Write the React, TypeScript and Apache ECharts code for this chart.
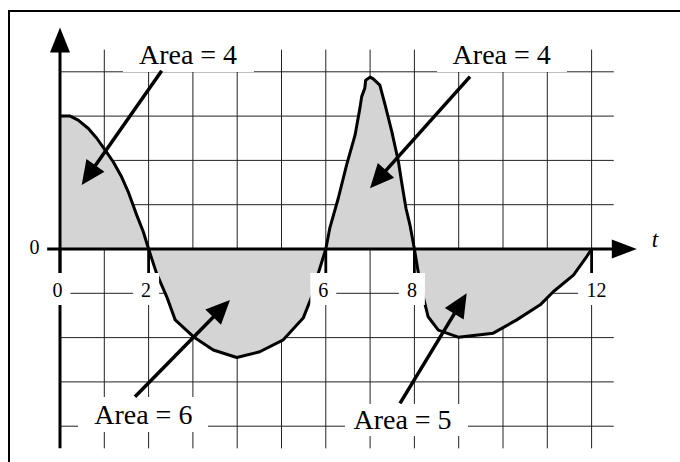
import React, { useEffect, useRef } from 'react';
import * as echarts from 'echarts';

// ---- data ----
const curveT = [0, 0.23, 0.41, 0.64, 0.83, 1.02, 1.2, 1.39, 1.54, 1.62, 1.73, 1.88, 2, 2.18, 2.41, 2.6, 3.01, 3.46, 3.99, 4.51, 5.04, 5.49, 5.68, 5.83, 6, 6.09, 6.28, 6.47, 6.66, 6.77, 6.81, 6.88, 6.9, 7.0, 7.07, 7.22, 7.34, 7.49, 7.64, 7.71, 7.81, 7.9, 8, 8.09, 8.2, 8.31, 8.54, 8.99, 9.78, 10.31, 10.84, 11.14, 11.59, 11.89, 12];
const curveV = [3.0, 3.0, 2.91, 2.72, 2.5, 2.23, 1.97, 1.63, 1.29, 1.07, 0.77, 0.39, 0, -0.55, -1.08, -1.6, -1.98, -2.28, -2.45, -2.32, -2.05, -1.56, -1.08, -0.55, 0, 0.47, 1.14, 1.9, 2.57, 3.18, 3.44, 3.63, 3.81, 3.88, 3.84, 3.7, 3.25, 2.65, 1.97, 1.52, 0.92, 0.54, 0, -0.55, -1.08, -1.53, -1.83, -1.99, -1.9, -1.6, -1.26, -0.96, -0.59, -0.17, 0];
const xTickValues = [0, 2, 6, 8, 12];
const xTickLabels = ['0', '2', '6', '8', '12'];
const xGrid = [1, 2, 3, 4, 5, 6, 7, 8, 9, 10, 11, 12];
const yGrid = [-4, -3, -2, -1, 1, 2, 3, 4];
const yZeroLabel = '0';
const xAxisName = 't';
const areaLabels = ['Area = 4', 'Area = 4', 'Area = 6', 'Area = 5'];

const X_MIN = 0, X_MAX = 12.5, Y_MIN = -4.5, Y_MAX = 4.5;
const SERIF = '"Liberation Serif", "Times New Roman", serif';

function arrow(x1: number, y1: number, x2: number, y2: number) {
  const dx = x2 - x1, dy = y2 - y1;
  const L = Math.hypot(dx, dy);
  const ux = dx / L, uy = dy / L;
  const bx = x2 - ux * 24, by = y2 - uy * 24;
  const nx = -uy, ny = ux;
  return [
    { type: 'line', z: 10, shape: { x1, y1, x2: bx + ux * 2, y2: by + uy * 2 }, style: { stroke: '#000', lineWidth: 3.5 } },
    { type: 'polygon', z: 10, shape: { points: [[x2, y2], [bx + nx * 11, by + ny * 11], [bx - nx * 11, by - ny * 11]] }, style: { fill: '#000' } },
  ];
}

function mask(x: number, y: number, w: number, h: number) {
  return { type: 'rect', z: 9, shape: { x, y, width: w, height: h }, style: { fill: '#fff' } };
}

function label(text: string, x: number, y: number, size: number, italic = false) {
  return {
    type: 'text', z: 11, x, y,
    style: {
      text, fill: '#000', fontSize: size, fontFamily: SERIF, fontStyle: italic ? 'italic' : 'normal',
      align: 'center', verticalAlign: 'middle',
    },
  };
}

export default function App() {
  const ref = useRef<HTMLDivElement>(null);
  useEffect(() => {
    const chart = echarts.init(ref.current!, null, { renderer: 'svg' });
    const option: any = {
      animation: false,
      backgroundColor: '#fff',
      textStyle: { fontFamily: SERIF },
      grid: { left: 60, top: 49.65, width: 553.75, height: 398.7 },
      xAxis: { type: 'value', min: X_MIN, max: X_MAX, show: false },
      yAxis: { type: 'value', min: Y_MIN, max: Y_MAX, show: false },
      series: [
        {
          type: 'custom', z: 1, silent: true,
          data: xGrid.map((v) => [v, 0]),
          renderItem: (params: any, api: any) => {
            const x = api.value(0);
            const p1 = api.coord([x, Y_MIN]);
            const p2 = api.coord([x, Y_MAX]);
            return { type: 'line', shape: { x1: p1[0], y1: p1[1], x2: p2[0], y2: p2[1] }, style: { stroke: '#222', lineWidth: 1 } };
          },
        },
        {
          type: 'custom', z: 1, silent: true,
          data: yGrid.map((v) => [0, v]),
          renderItem: (params: any, api: any) => {
            const y = api.value(1);
            const p1 = api.coord([X_MIN, y]);
            const p2 = api.coord([X_MAX, y]);
            return { type: 'line', shape: { x1: p1[0], y1: p1[1], x2: p2[0], y2: p2[1] }, style: { stroke: '#222', lineWidth: 1 } };
          },
        },
        {
          type: 'line', z: 2, silent: true,
          data: curveT.map((t, i) => [t, curveV[i]]),
          symbol: 'none', smooth: false, clip: false,
          lineStyle: { color: '#000', width: 3, join: 'round' },
          areaStyle: { color: '#d4d4d4', opacity: 1, origin: 'auto' },
        },
        {
          type: 'custom', z: 3, silent: true,
          data: [[0, 0]],
          renderItem: (params: any, api: any) => {
            const yb = api.coord([0, Y_MIN]);
            const yt = api.coord([0, 5.0]);
            const xl = api.coord([-0.29, 0]);
            const xt = api.coord([13.02, 0]);
            const children: any[] = [
              { type: 'line', shape: { x1: yb[0], y1: yb[1], x2: yt[0], y2: yt[1] + 22 }, style: { stroke: '#000', lineWidth: 3 } },
              { type: 'polygon', shape: { points: [[yt[0], yt[1]], [yt[0] - 10, yt[1] + 25], [yt[0] + 10, yt[1] + 25]] }, style: { fill: '#000' } },
              { type: 'line', shape: { x1: xl[0], y1: xl[1], x2: xt[0] - 22, y2: xt[1] }, style: { stroke: '#000', lineWidth: 3 } },
              { type: 'polygon', shape: { points: [[xt[0], xt[1]], [xt[0] - 25, xt[1] - 9.5], [xt[0] - 25, xt[1] + 9.5]] }, style: { fill: '#000' } },
            ];
            xTickValues.forEach((v) => {
              const p = api.coord([v, 0]);
              children.push({ type: 'line', shape: { x1: p[0], y1: p[1], x2: p[0], y2: p[1] + 24 }, style: { stroke: '#000', lineWidth: 2.8 } });
            });
            return { type: 'group', children };
          },
        },
        {
          type: 'custom', z: 4, silent: true,
          data: xTickValues.map((v) => [v, 0]),
          renderItem: (params: any, api: any) => {
            const p = api.coord([api.value(0), 0]);
            const lab = xTickLabels[params.dataIndex];
            const two = lab.length > 1;
            const w = two ? 37 : 26;
            const cx = p[0] + (two ? 5 : -2.5);
            return {
              type: 'group',
              children: [
                { type: 'rect', shape: { x: cx - w / 2, y: p[1] + 24, width: w, height: 32 }, style: { fill: '#fff' } },
                { type: 'text', x: cx, y: p[1] + 41, style: { text: lab, fill: '#000', fontSize: 20, fontFamily: SERIF, align: 'center', verticalAlign: 'middle' } },
              ],
            };
          },
        },
      ],
      graphic: {
        elements: [
          { type: 'rect', z: 12, shape: { x: 9, y: 11, width: 720, height: 520 }, style: { fill: 'none', stroke: '#000', lineWidth: 2 } },
          label(yZeroLabel, 34.5, 247, 20),
          label(xAxisName, 655, 239, 23, true),
          mask(123, 45, 131, 27),
          mask(437, 45, 130, 27),
          mask(78, 397, 130, 35),
          mask(345, 404, 123, 32),
          label(areaLabels[0], 188, 54, 28),
          label(areaLabels[1], 501.7, 54, 28),
          label(areaLabels[2], 143.3, 414.7, 28),
          label(areaLabels[3], 402.5, 419, 28),
          ...arrow(161.7, 70.7, 81.7, 185),
          ...arrow(470, 76.7, 370, 188.3),
          ...arrow(135, 396.7, 230, 300),
          ...arrow(400, 403.3, 466.7, 293.3),
        ],
      },
    };
    chart.setOption(option);
    return () => chart.dispose();
  }, []);
  return <div ref={ref} style={{ position: 'fixed', left: 0, top: 0, width: 680, height: 462, background: '#fff' }} />;
}
